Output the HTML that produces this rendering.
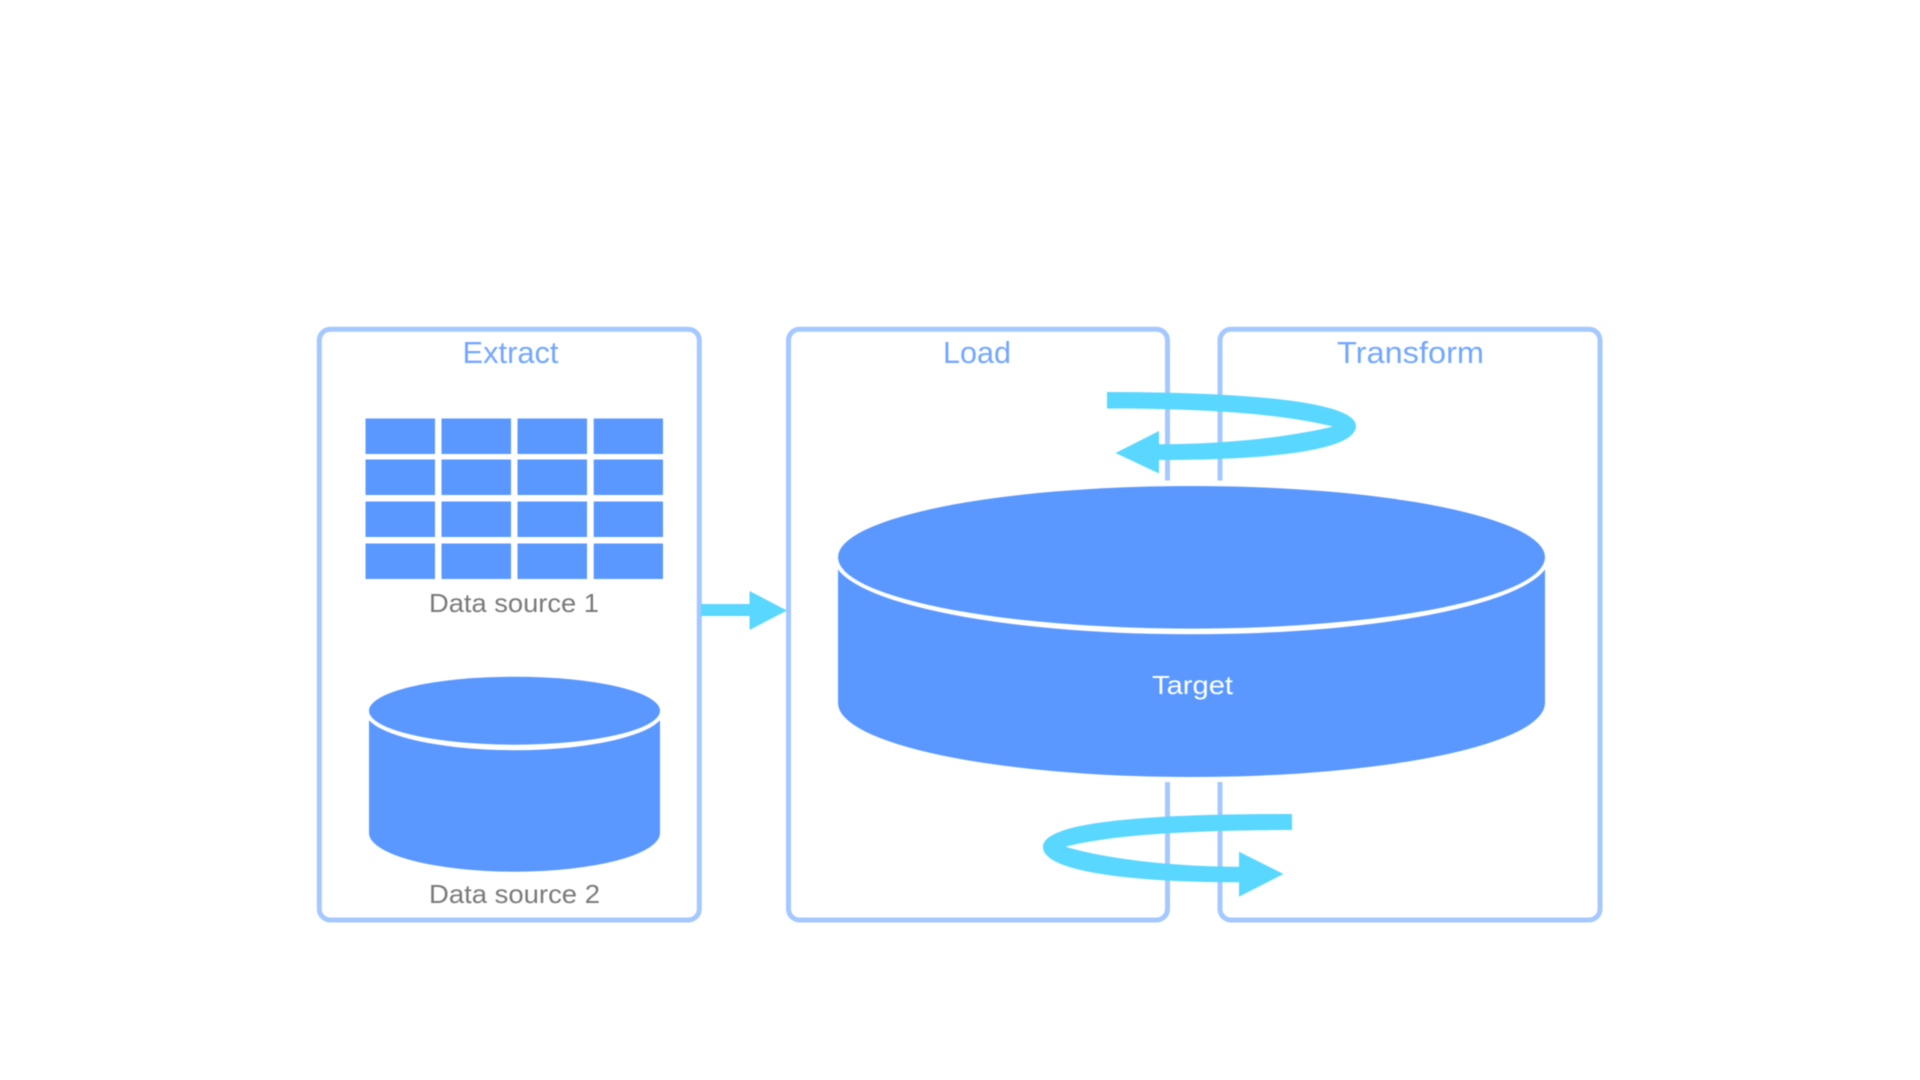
<!DOCTYPE html>
<html>
<head>
<meta charset="utf-8">
<style>
html,body{margin:0;padding:0;background:#fff;width:1920px;height:1080px;overflow:hidden}
svg{display:block;filter:blur(0.4px)}
text{font-family:"Liberation Sans",sans-serif}
</style>
</head>
<body>
<svg width="1920" height="1080" viewBox="0 0 1920 1080" xmlns="http://www.w3.org/2000/svg">
<rect width="1920" height="1080" fill="#fff"/>
<g fill="none" stroke="#a4c8ff" stroke-width="5">
<rect x="319.3" y="329.3" width="380" height="590.7" rx="11"/>
<rect x="788.5" y="329.3" width="379" height="590.7" rx="11"/>
<rect x="1220" y="329.3" width="380" height="590.7" rx="11"/>
</g>
<rect x="1150" y="481" width="85" height="301" fill="#fff"/>
<g fill="#5a98ff">
<rect x="365.5" y="418.5" width="69.5" height="35.5"/><rect x="441.5" y="418.5" width="69.5" height="35.5"/><rect x="517.5" y="418.5" width="69.5" height="35.5"/><rect x="593.7" y="418.5" width="69.3" height="35.5"/>
<rect x="365.5" y="459.5" width="69.5" height="35.5"/><rect x="441.5" y="459.5" width="69.5" height="35.5"/><rect x="517.5" y="459.5" width="69.5" height="35.5"/><rect x="593.7" y="459.5" width="69.3" height="35.5"/>
<rect x="365.5" y="501.5" width="69.5" height="35.5"/><rect x="441.5" y="501.5" width="69.5" height="35.5"/><rect x="517.5" y="501.5" width="69.5" height="35.5"/><rect x="593.7" y="501.5" width="69.3" height="35.5"/>
<rect x="365.5" y="543.5" width="69.5" height="35.5"/><rect x="441.5" y="543.5" width="69.5" height="35.5"/><rect x="517.5" y="543.5" width="69.5" height="35.5"/><rect x="593.7" y="543.5" width="69.3" height="35.5"/>
<path d="M369 711V833A145.5 38.7 0 0 0 660 833V711Z"/>
</g>
<ellipse cx="514.5" cy="710.7" rx="150" ry="39.5" fill="#fff"/>
<ellipse cx="514.5" cy="710.7" rx="145.5" ry="34" fill="#5a98ff"/>
<path d="M838 557V703A353.5 74 0 0 0 1545 703V557Z" fill="#5a98ff"/>
<ellipse cx="1191.5" cy="557.3" rx="358" ry="77" fill="#fff"/>
<ellipse cx="1191.5" cy="557.3" rx="353.5" ry="71.3" fill="#5a98ff"/>
<g fill="#5ad7ff">
<path d="M701 604H749.5V591L787 610.5L749.5 630V616H701Z"/>
<path d="M1107 392C1250 392 1356 402 1356 426C1356 452 1260 460 1159 460V473.5L1115.5 453L1159 431V444.3C1225 444.3 1290 437 1333 426.5C1290 416 1225 408.5 1107 408.5Z"/>
<path d="M1292 814C1150 814 1043 821 1043 847C1043 873 1140 882.3 1239 882.3V896.7L1283.5 874L1239 851.7V866.7C1180 866.7 1110 860 1065.7 846.7C1110 835 1190 830 1292 830Z"/>
</g>
<g font-size="31" fill="#72a7ff">
<text x="462.5" y="363" textLength="96" lengthAdjust="spacingAndGlyphs">Extract</text>
<text x="943" y="363" textLength="68" lengthAdjust="spacingAndGlyphs">Load</text>
<text x="1337" y="363" textLength="147" lengthAdjust="spacingAndGlyphs">Transform</text>
</g>
<g font-size="26" fill="#7a7a7a">
<text x="429" y="612" textLength="170" lengthAdjust="spacingAndGlyphs">Data source 1</text>
<text x="429" y="903" textLength="171" lengthAdjust="spacingAndGlyphs">Data source 2</text>
</g>
<text x="1152" y="694" font-size="26" fill="#fff" textLength="81" lengthAdjust="spacingAndGlyphs">Target</text>
</svg>
</body>
</html>
